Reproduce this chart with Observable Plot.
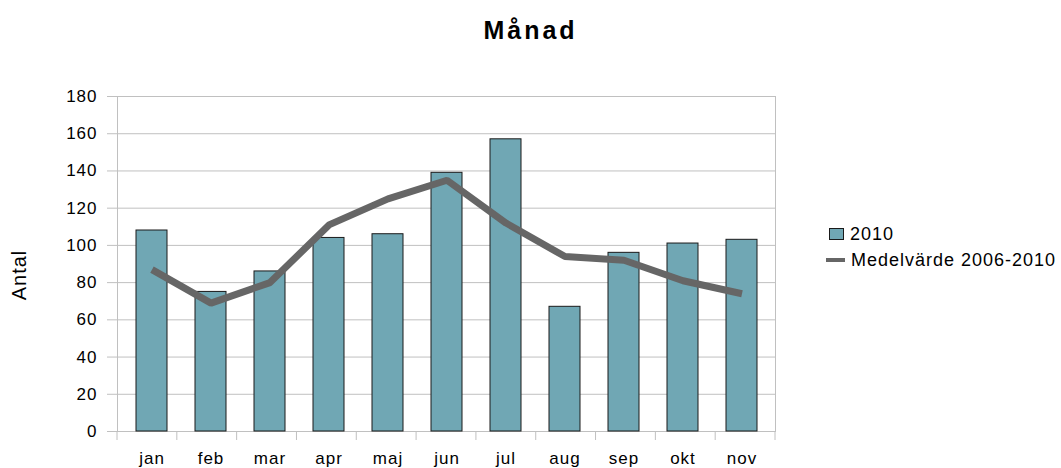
<!DOCTYPE html>
<html>
<head>
<meta charset="utf-8">
<script src="https://cdn.jsdelivr.net/npm/d3@7"></script>
<script src="https://cdn.jsdelivr.net/npm/@observablehq/plot@0.6"></script>
<style>
  html, body { margin: 0; padding: 0; background: #fff; }
  #wrap { position: relative; width: 1061px; height: 468px; font-family: "Liberation Sans", Arial, sans-serif; }
  #title { height: 60px; text-align: center; font-weight: bold; font-size: 25px; letter-spacing: 3px; line-height: 60px; padding-left: 0px; color: #000; }
  #legend { position: absolute; left: 826px; top: 221px; font-size: 18px; letter-spacing: 1px; color: #000; }
  .li { display: flex; align-items: center; height: 26px; }
  .sw { width: 13px; height: 10px; background: #70a7b4; border: 1px solid #1a1a1a; margin-left: 3px; margin-right: 6px; }
  .ln { width: 19px; height: 4px; background: #666666; margin-right: 6px; }
</style>
</head>
<body>
<div id="wrap">
  <div id="title">Månad</div>
  <div id="chart"></div>
  <div id="legend"></div>
</div>
<script>
const months = ["jan", "feb", "mar", "apr", "maj", "jun", "jul", "aug", "sep", "okt", "nov"];
const values2010 = [108, 75, 86, 104, 106, 139, 157, 67, 96, 101, 103];
const mean0610 = [87, 69, 80, 111, 125, 135, 112, 94, 92, 81, 74];
const yTicks = [0, 20, 40, 60, 80, 100, 120, 140, 160, 180];
const seriesNames = ["2010", "Medelvärde 2006-2010"];

const bars = months.map((m, i) => ({month: m, value: values2010[i]}));
const line = months.map((m, i) => ({month: m, value: mean0610[i]}));

const boundaryTicks = (index, scales, values, dims) => {
  const g = d3.create("svg:g");
  const left = dims.marginLeft, right = dims.width - dims.marginRight;
  const n = months.length, step = (right - left) / n;
  const y0 = scales.y(0);
  for (let i = 0; i <= n; i++) {
    const x = left + i * step;
    g.append("line").attr("x1", x).attr("x2", x).attr("y1", y0).attr("y2", y0 + 9)
      .attr("stroke", "#c0c0c0").attr("stroke-width", 1);
  }
  return g.node();
};

const chart = Plot.plot({
  width: 1061,
  height: 408,
  marginLeft: 117,
  marginRight: 286,
  marginTop: 36,
  marginBottom: 37,
  style: {fontFamily: "Liberation Sans, Arial, sans-serif", fontSize: "17px", letterSpacing: "1px", color: "#000", background: "transparent", overflow: "visible"},
  x: {domain: months, paddingInner: 0.48, paddingOuter: 0.24},
  y: {domain: [0, 180]},
  marks: [
    Plot.gridY(yTicks, {stroke: "#c0c0c0", strokeOpacity: 1}),
    Plot.axisY(yTicks, {tickSize: 10, tickPadding: 10, stroke: "#c0c0c0", fill: "#000", label: null, fontSize: 17}),
    Plot.axisX({tickSize: 0, tickPadding: 20, fill: "#000", label: null, fontSize: 17}),
    Plot.frame({stroke: "#c0c0c0"}),
    boundaryTicks,
    Plot.barY(bars, {x: "month", y: "value", fill: "#70a7b4", stroke: "#1a1a1a", strokeWidth: 1}),
    Plot.line(line, {x: "month", y: "value", stroke: "#666666", strokeWidth: 7, strokeLinejoin: "miter", strokeLinecap: "butt"}),
    Plot.text(["Antal"], {frameAnchor: "left", textAnchor: "middle", rotate: -90, dx: -98, dy: 11, fontSize: 20, fill: "#000"})
  ]
});
document.getElementById("chart").appendChild(chart);

const legend = document.getElementById("legend");
legend.innerHTML =
  `<div class="li"><div class="sw"></div><span>${seriesNames[0]}</span></div>` +
  `<div class="li"><div class="ln"></div><span>${seriesNames[1]}</span></div>`;
</script>
</body>
</html>
